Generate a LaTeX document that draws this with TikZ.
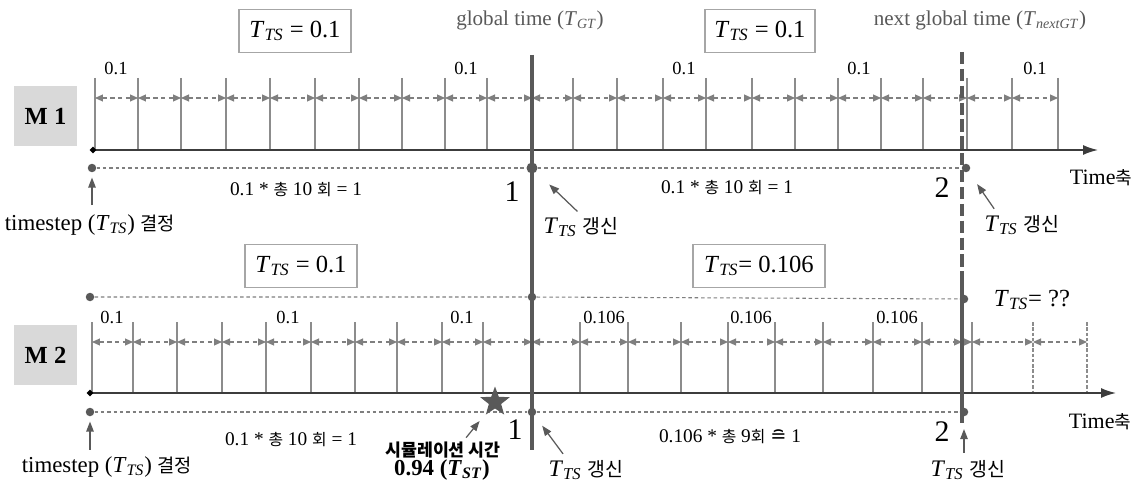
\documentclass[tikz,border=0pt]{standalone}
\usepackage{fontspec}
\setmainfont{Liberation Serif}
\newfontfamily\kr{Noto Sans CJK KR}[Scale=0.82]
\newfontfamily\symf{DejaVu Sans}
\usetikzlibrary{arrows.meta,shapes.geometric}
\definecolor{cAxis} {HTML}{3c3c3c}
\definecolor{cTick} {HTML}{8c8c8c}
\definecolor{cGap}  {HTML}{7f7f7f}
\definecolor{cGlob} {HTML}{595959}
\definecolor{cLab}  {HTML}{d9d9d9}
\definecolor{cFrame}{HTML}{a6a6a6}
\newcommand{\tv}[2]{\textit{#1}\textsubscript{\textit{#2}}}
\tikzset{
  saxis/.style ={cAxis,line width=0.9pt,-{Latex[length=3mm,width=2mm]}},
  stick/.style ={cTick,line width=0.6pt},
  sgap/.style  ={cGap,dash pattern=on 2.4pt off 2pt,line width=0.6pt,
                 {Triangle[length=1.6mm,width=1.4mm]}-{Triangle[length=1.6mm,width=1.4mm]}},
  sguide/.style={cGap,dash pattern=on 2pt off 1.6pt,line width=0.6pt},
  sdot/.style  ={circle,fill=cGlob,inner sep=0pt,minimum size=1.7mm},
  sglob/.style ={cGlob,line width=2.4pt},
  sframe/.style={draw=cFrame,line width=0.6pt,minimum height=0.86cm,inner sep=2pt,
                 font=\fontsize{14}{16}\selectfont},
  smod/.style  ={fill=cLab,minimum width=1.26cm,minimum height=1.22cm,
                 font=\fontsize{14}{16}\selectfont\bfseries},
  snote/.style ={inner sep=1pt,font=\fontsize{13.5}{16}\selectfont},
  sval/.style  ={inner sep=0pt,font=\fontsize{10.5}{12}\selectfont},
  scount/.style={inner sep=0pt,font=\fontsize{11}{13}\selectfont},
  stitle/.style={inner sep=0pt,cGlob,font=\fontsize{12}{14}\selectfont},
  snum/.style  ={inner sep=0pt,font=\fontsize{17}{19}\selectfont},
  sptr/.style  ={cAxis!85,line width=0.7pt,-{Triangle[length=2mm,width=1.5mm]}},
}

\begin{document}
\begin{tikzpicture}[x=0.02cm,y=-0.02cm]
  \useasboundingbox[fill=white] (0,0) rectangle (1140,483);

  % module labels and time step boxes
  \node[smod] (m1) at (45.5,116) {M 1};
  \node[smod] (m2) at (45.5,355) {M 2};
  \node[sframe,minimum width=2.24cm] (bx1) at (295,31) {\tv{T}{TS} = 0.1};
  \node[sframe,minimum width=2.2cm]  (bx2) at (760,31) {\tv{T}{TS} = 0.1};
  \node[sframe,minimum width=2.24cm] (bx3) at (301,266) {\tv{T}{TS} = 0.1};
  \node[sframe,minimum width=2.64cm] (bx4) at (759,266) {\tv{T}{TS}= 0.106};
  \node[stitle] (gt)  at (530,20) {global time (\tv{T}{GT})};
  \node[stitle] (ngt) at (980,20) {next global time (\textit{T}\textsubscript{\textit{nextGT}})};

  % M1 time steps
  \draw[stick] (95,78) -- (95,150);
  \foreach \x [remember=\x as \px (initially 95)] in
      {138,181,226,270,315,359,402,445,487,532,573,617,663,706,752,795,838,881,923,967,1012,1058}{
    \draw[stick] (\x,78) -- (\x,150);
    \draw[sgap] (\px,98) -- (\x,98);
  }
  \foreach \x in {116,466,684,859,1035}
    \node[sval] at (\x,68) {0.1};
  \draw[saxis] (93,150) -- (1098,150);
  \node[diamond,fill=black,inner sep=0pt,minimum size=1.4mm] (o1) at (93,150) {};

  % M2 time steps
  \draw[stick] (92,322) -- (92,393);
  \foreach \x [remember=\x as \px (initially 92)] in
      {133,177,222,266,311,355,397,442,483,532,580,628,681,728,775,823,873,922,962}{
    \draw[stick] (\x,322) -- (\x,393);
    \draw[sgap] (\px,342) -- (\x,342);
  }
  \draw[stick] (972,322) -- (972,393);
  \draw[sgap,-{Triangle[length=1.6mm,width=1.4mm]}] (962,342) -- (972,342);
  \foreach \x [remember=\x as \px (initially 972)] in {1033,1087}{
    \draw[stick,dash pattern=on 2pt off 1pt] (\x,322) -- (\x,393);
    \draw[sgap] (\px,342) -- (\x,342);
  }
  \foreach \x in {112,288,462}
    \node[sval] at (\x,317) {0.1};
  \foreach \x in {604,751,897}
    \node[sval] at (\x,317) {0.106};
  \draw[saxis] (90,393) -- (1116,393);
  \node[diamond,fill=black,inner sep=0pt,minimum size=1.4mm] (o2) at (90,393) {};

  % global times
  \draw[sglob] (532,55) -- (532,450);
  \draw[sglob,line width=2.8pt,dash pattern=on 7pt off 2.6pt] (962,52) -- (962,282);
  \draw[sglob,line width=2.8pt] (962,282) -- (962,423);

  % guide lines
  \node[sdot] (a1) at (92,168) {};
  \node[sdot,minimum size=2.2mm] (b1) at (532,168) {};
  \node[sdot] (c1) at (966,168) {};
  \node[sdot] (a2) at (90,297) {};
  \node[sdot] (b2) at (532,297) {};
  \node[sdot] (c2) at (964,299) {};
  \node[sdot] (a3) at (90,412) {};
  \node[sdot] (b3) at (532,412) {};
  \node[sdot] (c3) at (964,412) {};
  \draw[sguide] (a1) -- (b1) -- (c1);
  \draw[sguide] (a2) -- (b2) -- (c2);
  \draw[sguide] (a3) -- (b3) -- (c3);

  \node[scount] (n1) at (296,190) {0.1 * {\kr 총} 10 {\kr 회} = 1};
  \node[scount] (n2) at (727,188) {0.1 * {\kr 총} 10 {\kr 회} = 1};
  \node[scount] (n3) at (291,440) {0.1 * {\kr 총} 10 {\kr 회} = 1};
  \node[scount] (n4) at (730,437) {0.106 * {\kr 총} 9{\kr 회} {\symf ≘} 1};

  \node[snum] (g1) at (512,192) {1};
  \node[snum] (g2) at (942,188) {2};
  \node[snum] (g3) at (515,430) {1};
  \node[snum] (g4) at (942,432) {2};
  \node[inner sep=0pt,font=\fontsize{12.5}{14}\selectfont] (ax1) at (1101,178) {Time{\kr 축}};
  \node[inner sep=0pt,font=\fontsize{12.5}{14}\selectfont] (ax2) at (1100,422) {Time{\kr 축}};
  \node[snote,font=\fontsize{14}{16}\selectfont] (q) at (1032,300) {\tv{T}{TS}= ??};

  % notes
  \node[snote,font=\fontsize{13}{16}\selectfont] (tsA) at (90,225) {timestep (\tv{T}{TS}) {\kr 결정}};
  \node[snote,font=\fontsize{13}{16}\selectfont] (tsB) at (107,467) {timestep (\tv{T}{TS}) {\kr 결정}};
  \node[snote] (u1) at (581,227) {\tv{T}{TS} {\kr 갱신}};
  \node[snote] (u2) at (1022,225) {\tv{T}{TS} {\kr 갱신}};
  \node[snote] (u3) at (586,470) {\tv{T}{TS} {\kr 갱신}};
  \node[snote] (u4) at (968,470) {\tv{T}{TS} {\kr 갱신}};
  \draw[sptr,shorten <=1.5mm,shorten >=1mm] (tsA.north -| a1) -- (a1);
  \draw[sptr,shorten <=1mm,shorten >=1mm] (tsB.north -| a3) -- (a3);
  \draw[sptr,shorten <=1mm,shorten >=3.6mm] (u1.north) -- (b1);
  \draw[sptr,shorten <=1mm,shorten >=3mm] ([xshift=-5mm]u2.north) -- (c1);
  \draw[sptr,shorten <=1mm,shorten >=2.5mm] ([xshift=-4mm]u3.north) -- (b3);
  \draw[sptr,shorten <=1mm,shorten >=2.5mm] (u4.north -| c3) -- (c3);

  % simulation time
  \node[star,star points=5,star point ratio=2.4,fill=cGlob,inner sep=0pt,
        minimum size=0.62cm] (st) at (495,402) {};
  \node[inner sep=0pt,font=\fontsize{12}{14}\selectfont\bfseries] (sim1) at (443,450)
    {{\kr 시뮬레이션 시간}};
  \node[inner sep=0pt,font=\fontsize{13}{15}\selectfont\bfseries] (sim2) at (442,470)
    {0.94 (\tv{T}{ST})};
  \draw[sptr,shorten <=1mm,shorten >=2mm] ([xshift=4mm]sim1.north) -- (st);
\end{tikzpicture}
\end{document}
